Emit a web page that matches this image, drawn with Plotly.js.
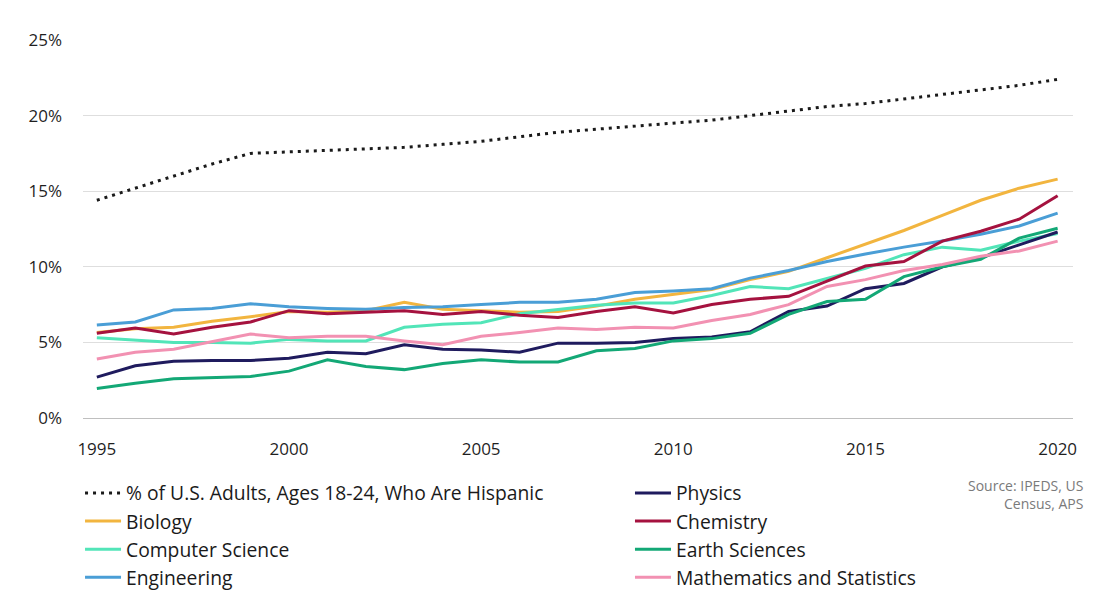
<!DOCTYPE html>
<html>
<head>
<meta charset="utf-8">
<script src="https://cdn.plot.ly/plotly-3.0.1.min.js"></script>
<style>
  html, body { margin: 0; padding: 0; background: #ffffff; }
  #chart { width: 1118px; height: 595px; }
</style>
</head>
<body>
<div id="chart"></div>
<script>
// Share of degrees earned by Hispanic students, by discipline, 1995-2020 (%)
const years = [1995,1996,1997,1998,1999,2000,2001,2002,2003,2004,2005,2006,2007,
               2008,2009,2010,2011,2012,2013,2014,2015,2016,2017,2018,2019,2020];

const hispanicAdults = [14.4,15.2,16.0,16.8,17.5,17.6,17.7,17.8,17.9,18.1,18.3,18.6,18.9,
                        19.1,19.3,19.5,19.7,20.0,20.3,20.6,20.8,21.1,21.4,21.7,22.0,22.4];
const physics = [2.7,3.45,3.75,3.8,3.8,3.95,4.35,4.25,4.85,4.55,4.5,4.35,4.95,
                 4.95,5.0,5.25,5.35,5.7,7.05,7.4,8.55,8.9,10.0,10.6,11.45,12.3];
const biology = [5.65,5.9,6.0,6.4,6.7,7.05,7.0,7.1,7.65,7.2,7.1,7.0,7.05,
                 7.4,7.85,8.15,8.5,9.15,9.7,10.6,11.5,12.4,13.4,14.4,15.2,15.8];
const chemistry = [5.6,5.95,5.55,6.0,6.35,7.1,6.9,7.0,7.1,6.85,7.05,6.8,6.65,
                   7.05,7.35,6.95,7.5,7.85,8.05,9.05,10.05,10.35,11.7,12.35,13.15,14.7];
const computerScience = [5.3,5.15,5.0,5.0,4.95,5.2,5.1,5.1,6.0,6.2,6.3,6.9,7.15,
                         7.45,7.6,7.6,8.1,8.7,8.55,9.25,9.9,10.8,11.3,11.1,11.7,12.2];
const earthSciences = [1.95,2.3,2.6,2.65,2.75,3.1,3.85,3.4,3.2,3.6,3.85,3.7,3.7,
                       4.45,4.6,5.1,5.25,5.6,6.85,7.7,7.85,9.35,10.0,10.5,11.9,12.55];
const engineering = [6.15,6.35,7.15,7.25,7.55,7.35,7.25,7.2,7.3,7.35,7.5,7.65,7.65,
                     7.85,8.3,8.4,8.55,9.25,9.75,10.35,10.85,11.3,11.7,12.15,12.7,13.55];
const mathStats = [3.9,4.35,4.55,5.05,5.55,5.3,5.4,5.4,5.1,4.85,5.4,5.65,5.95,
                   5.85,6.0,5.95,6.45,6.85,7.5,8.7,9.15,9.75,10.15,10.7,11.05,11.7];

const xTicks = [1995,2000,2005,2010,2015,2020];
const yTicks = [0,5,10,15,20,25];

// Left legend column: census share and three disciplines; right column: the other four
const series = [
  {name: '% of U.S. Adults, Ages 18-24, Who Are Hispanic', y: hispanicAdults, color: '#1a1a1a', dash: '3px,5px', legend: 'legend'},
  {name: 'Biology', y: biology, color: '#f2b53f', legend: 'legend'},
  {name: 'Computer Science', y: computerScience, color: '#52e5b8', legend: 'legend'},
  {name: 'Engineering', y: engineering, color: '#4a9ed6', legend: 'legend'},
  {name: 'Physics', y: physics, color: '#1f1b5e', legend: 'legend2'},
  {name: 'Chemistry', y: chemistry, color: '#a5123f', legend: 'legend2'},
  {name: 'Earth Sciences', y: earthSciences, color: '#13a876', legend: 'legend2'},
  {name: 'Mathematics and Statistics', y: mathStats, color: '#f291b2', legend: 'legend2'}
];

const traces = series.map(s => ({
  type: 'scatter',
  mode: 'lines',
  name: s.name,
  legend: s.legend,
  x: years,
  y: s.y,
  line: {color: s.color, width: 3, dash: s.dash || 'solid'},
  hoverinfo: 'x+y+name'
}));

const fontFamily = '"Open Sans", Lato, sans-serif';

const legendBase = {
  orientation: 'v',
  xref: 'paper',
  yref: 'container',
  xanchor: 'left',
  y: 0.2035,
  yanchor: 'top',
  itemwidth: 36,
  traceorder: 'normal',
  font: {family: fontFamily, size: 19.3, color: '#1a1a1a'},
  bgcolor: 'rgba(0,0,0,0)'
};

const layout = {
  width: 1118,
  height: 595,
  paper_bgcolor: '#ffffff',
  plot_bgcolor: '#ffffff',
  margin: {l: 83, r: 45, t: 40, b: 177},
  font: {family: fontFamily, size: 17, color: '#262626'},
  xaxis: {
    range: [1994.64, 2020.4],
    tickmode: 'array',
    tickvals: xTicks,
    ticktext: xTicks.map(String),
    showgrid: false,
    zeroline: false,
    showline: true,
    linecolor: '#bfbfbf',
    linewidth: 1,
    ticks: '',
    ticklabelstandoff: 16,
    automargin: false,
    tickfont: {family: fontFamily, size: 17, color: '#1f1f1f'}
  },
  yaxis: {
    range: [0, 25],
    tickmode: 'array',
    tickvals: yTicks,
    ticktext: yTicks.map(v => v + '%'),
    showgrid: true,
    gridcolor: '#dedede',
    gridwidth: 1,
    zeroline: false,
    showline: false,
    ticks: '',
    ticklabelstandoff: 20,
    automargin: false,
    tickfont: {family: fontFamily, size: 17, color: '#1f1f1f'}
  },
  showlegend: true,
  legend: Object.assign({}, legendBase, {x: -0.003}),
  legend2: Object.assign({}, legendBase, {x: 0.5525}),
  annotations: [{
    xref: 'paper', yref: 'paper',
    x: 1.012, y: -0.148,
    xanchor: 'right', yanchor: 'top',
    align: 'right',
    showarrow: false,
    text: 'Source: IPEDS, US<br>Census, APS',
    font: {family: fontFamily, size: 14, color: '#7a7a7a'}
  }]
};

Plotly.newPlot('chart', traces, layout, {displayModeBar: false, staticPlot: true});
</script>
</body>
</html>
